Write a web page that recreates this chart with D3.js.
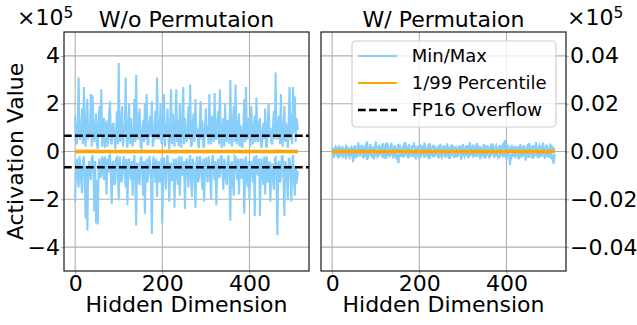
<!DOCTYPE html>
<html>
<head>
<meta charset="utf-8">
<script src="https://cdn.jsdelivr.net/npm/d3@7"></script>
<style>
  body { margin: 0; background: #fff; }
  svg { font-family: "DejaVu Sans", sans-serif; }
</style>
</head>
<body>
<div id="chart"></div>
<script>
// hidden dimension index of each sample
const minMaxDims = d3.range(0, 510, 2).concat([511]);
const pctDims = d3.range(0, 496, 16).concat([511]);

// W/o permutation, in units of 1e5
const noPermMax = [
  1.5, 0.4, 0.3, 1.2, 3.1, 0.6, 0.5, 1.0, 1.8, 0.3, 2.7, 0.9, 0.2, 1.4, 2.2, 0.5,
  1.1, 0.7, 2.4, 0.2, 2.35, 1.1, 0.4, 0.8, 1.6, 0.3, 0.1, 1.3, 1.9, 0.6, 2.6, 0.2,
  1.0, 1.4, 0.15, 0.9, 1.3, 0.2, 0.5, 1.6, 2.1, 0.4, 0.3, 1.1, 1.2, 0.6, 0.1, 0.8,
  1.7, 0.3, 3.7, 0.5, 0.4, 1.5, 1.9, 0.2, 1.1, 0.8, 3.1, 0.4, 0.15, 1.2, 2.0, 0.3,
  1.4, 0.6, 0.2, 1.0, 2.2, 0.4, 3.2, 0.7, 0.5, 1.3, 1.8, 0.2, 0.15, 0.9, 1.3, 0.4,
  2.0, 0.5, 2.4, 0.3, 0.3, 1.2, 1.5, 0.6, 2.1, 0.2, 0.4, 1.0, 1.7, 0.5, 3.1, 0.8,
  0.5, 1.1, 2.0, 0.4, 0.3, 1.6, 2.4, 0.2, 1.2, 0.7, 1.8, 0.5, 0.1, 1.2, 2.6, 0.3,
  1.6, 0.9, 0.2, 1.4, 2.6, 0.4, 1.3, 0.2, 2.0, 0.8, 0.15, 1.5, 2.7, 0.3, 1.4, 0.6,
  0.4, 1.0, 1.9, 0.5, 2.8, 0.2, 0.3, 1.3, 1.6, 0.4, 2.2, 0.7, 1.0, 0.3, 0.15, 1.2,
  2.1, 0.5, 1.3, 0.2, 0.2, 1.1, 1.8, 0.6, 1.1, 0.3, 2.4, 0.9, 0.3, 1.4, 1.5, 0.4,
  2.45, 0.6, 0.5, 1.2, 1.7, 0.3, 2.6, 0.8, 0.15, 1.0, 1.4, 0.2, 2.0, 0.7, 0.4, 1.3,
  1.2, 0.3, 3.0, 0.9, 0.2, 1.3, 1.9, 0.4, 2.8, 0.6, 0.3, 1.1, 1.6, 0.2, 1.1, 0.5,
  0.15, 1.0, 2.2, 0.4, 2.7, 0.6, 0.5, 1.4, 1.3, 0.2, 1.9, 0.8, 0.3, 1.1, 1.5, 0.4,
  2.25, 0.7, 0.4, 1.2, 1.4, 0.3, 0.15, 0.9, 1.2, 0.5, 1.8, 0.2, 0.2, 1.3, 2.0, 0.6,
  1.0, 0.4, 0.3, 1.1, 1.7, 0.5, 3.3, 0.8, 0.5, 1.2, 1.5, 0.3, 2.4, 0.6, 0.2, 1.0,
  1.9, 0.4, 1.2, 0.7, 0.15, 1.3, 2.7, 0.5, 1.6, 0.3, 2.7, 0.8, 2.3, 0.4, 1.4, 0.9
];
const noPermMin = [
  -2.1, -0.5, -0.3, -1.1, -1.5, -0.2, -0.6, -1.3, -1.75, -0.4, -0.2, -0.9, -2.8, -0.6, -3.3, -0.8,
  -0.4, -1.0, -1.2, -0.3, -0.15, -0.7, -2.5, -0.4, -3.0, -1.2, -3.05, -0.5, -0.3, -1.1, -1.0, -0.2,
  -0.5, -1.2, -0.2, -0.6, -1.8, -0.3, -0.9, -0.2, -0.15, -1.0, -2.2, -0.5, -0.4, -1.4, -1.3, -0.3,
  -0.25, -0.8, -2.05, -0.2, -0.6, -1.3, -1.1, -0.4, -0.2, -0.9, -1.5, -0.3, -2.25, -0.6, -0.3, -1.0,
  -1.2, -0.4, -1.85, -0.6, -0.15, -1.1, -3.1, -0.5, -0.5, -1.2, -1.4, -0.3, -0.2, -0.9, -1.85, -0.4,
  -2.6, -0.7, -0.3, -1.3, -1.0, -0.2, -0.5, -1.1, -3.45, -0.6, -0.2, -0.8, -1.3, -0.3, -1.9, -0.5,
  -0.4, -1.3, -1.1, -0.3, -3.0, -0.7, -0.25, -1.0, -1.6, -0.4, -0.15, -0.9, -2.1, -0.5, -0.5, -1.2,
  -1.2, -0.3, -2.35, -0.6, -0.3, -1.1, -1.4, -0.2, -1.85, -0.8, -0.2, -1.0, -0.9, -0.4, -2.4, -0.6,
  -0.3, -0.9, -1.5, -0.4, -0.15, -1.2, -1.9, -0.3, -0.6, -1.0, -2.35, -0.5, -0.2, -1.3, -1.1, -0.2,
  -0.4, -1.1, -1.6, -0.3, -2.1, -0.6, -0.25, -0.9, -1.3, -0.2, -0.5, -1.2, -2.0, -0.4, -0.15, -0.8,
  -1.2, -0.4, -2.25, -0.7, -0.3, -1.1, -1.0, -0.2, -0.2, -0.9, -1.6, -0.3, -0.5, -1.2, -1.4, -0.4,
  -0.15, -1.0, -2.9, -0.5, -0.4, -1.3, -1.85, -0.2, -0.25, -0.8, -1.2, -0.3, -1.8, -0.6, -0.3, -1.1,
  -1.1, -0.3, -2.6, -0.8, -0.2, -1.2, -1.5, -0.4, -2.05, -0.6, -0.4, -1.0, -1.3, -0.2, -2.7, -0.5,
  -0.15, -0.9, -1.0, -0.3, -2.7, -0.7, -0.3, -1.1, -1.4, -0.2, -1.8, -0.5, -0.2, -1.3, -1.2, -0.4,
  -2.1, -0.6, -0.5, -1.2, -1.6, -0.3, -0.25, -0.9, -3.5, -0.5, -0.4, -1.3, -1.1, -0.2, -0.2, -1.0,
  -2.7, -0.4, -0.6, -1.1, -2.05, -0.3, -0.3, -0.9, -2.1, -0.5, -0.15, -1.2, -1.85, -0.6, -1.35, -0.8
];
const noPermP99 = [
  0.03, 0.025, 0.035, 0.03, 0.028, 0.032, 0.03, 0.027, 0.033, 0.03, 0.029, 0.031, 0.026, 0.03, 0.034, 0.029,
  0.031, 0.028, 0.03, 0.032, 0.027, 0.03, 0.033, 0.029, 0.031, 0.03, 0.028, 0.032, 0.03, 0.027, 0.031, 0.03
];
const noPermP1 = [
  -0.029, -0.031, -0.027, -0.033, -0.03, -0.028, -0.032, -0.03, -0.026, -0.031, -0.029, -0.034, -0.03, -0.028, -0.031, -0.027,
  -0.03, -0.032, -0.029, -0.028, -0.033, -0.03, -0.027, -0.031, -0.029, -0.032, -0.03, -0.028, -0.031, -0.033, -0.029, -0.03
];

// W/ permutation, raw activation values (divided by 1e5 when drawn)
const permMax = [
  150, 60, 80, 130, 200, 40, 120, 90, 250, 70, 100, 150, 180, 50, 60, 110,
  220, 80, 140, 30, 80, 120, 190, 60, 120, 90, 260, 50, 90, 140, 380, 70,
  150, 50, 280, 100, 70, 160, 240, 60, 420, 110, 120, 40, 310, 130, 90, 70,
  220, 60, 420, 150, 130, 50, 280, 110, 80, 160, 350, 70, 160, 40, 380, 120,
  240, 70, 110, 150, 360, 60, 140, 100, 270, 40, 80, 130, 320, 90, 190, 50,
  120, 160, 250, 60, 390, 110, 150, 40, 310, 120, 90, 70, 260, 140, 380, 60,
  130, 90, 240, 50, 80, 140, 290, 70, 160, 110, 370, 60, 100, 150, 220, 40,
  350, 80, 120, 160, 270, 50, 180, 120, 90, 40, 240, 130, 320, 70, 110, 150,
  260, 60, 150, 120, 340, 70, 90, 140, 210, 50, 280, 100, 120, 160, 190, 40,
  80, 130, 250, 60, 150, 90, 320, 110, 110, 50, 270, 140, 180, 70, 390, 100,
  140, 70, 290, 120, 80, 150, 350, 60, 170, 100, 230, 40, 100, 130, 310, 80,
  160, 50, 260, 140, 90, 110, 210, 60, 340, 90, 130, 150, 240, 40, 110, 120,
  270, 60, 170, 130, 350, 90, 480, 110, 120, 50, 220, 140, 90, 70, 280, 100,
  150, 120, 240, 50, 110, 160, 190, 70, 310, 90, 140, 40, 260, 110, 80, 130,
  220, 80, 350, 110, 130, 60, 270, 140, 180, 90, 380, 50, 100, 120, 240, 70,
  160, 110, 370, 60, 120, 150, 290, 80, 80, 40, 330, 130, 190, 60, 140, 90
];
const permMin = [
  -120, -60, -250, -110, -80, -40, -180, -90, -280, -70, -100, -150, -210, -50, -150, -120,
  -320, -80, -90, -140, -240, -60, -130, -70, -450, -110, -190, -50, -270, -130, -110, -60,
  -220, -70, -80, -130, -290, -50, -140, -100, -350, -80, -190, -60, -110, -140, -260, -40,
  -330, -90, -120, -60, -210, -130, -160, -50, -90, -110, -270, -70, -180, -40, -310, -100,
  -130, -60, -240, -100, -90, -50, -290, -120, -170, -70, -340, -110, -490, -80, -220, -60,
  -150, -100, -260, -50, -80, -130, -190, -70, -280, -90, -120, -40, -230, -110, -160, -60,
  -330, -80, -110, -140, -250, -60, -180, -90, -90, -120, -270, -50, -140, -100, -210, -70,
  -310, -110, -120, -60, -240, -90, -170, -40, -100, -130, -290, -70, -150, -50, -220, -100,
  -80, -120, -260, -60, -130, -90, -310, -70, -190, -50, -110, -140, -270, -80, -160, -60,
  -230, -100, -90, -40, -340, -110, -140, -70, -210, -90, -120, -60, -280, -130, -170, -50,
  -100, -70, -250, -120, -150, -60, -220, -90, -90, -130, -320, -80, -130, -50, -190, -110,
  -270, -60, -110, -140, -230, -70, -160, -100, -80, -40, -260, -120, -140, -60, -210, -90,
  -290, -70, -120, -100, -240, -50, -170, -130, -350, -80, -110, -60, -560, -120, -210, -70,
  -150, -90, -270, -60, -90, -140, -330, -80, -180, -110, -240, -50, -120, -90, -380, -70,
  -160, -80, -260, -110, -100, -60, -310, -90, -190, -120, -130, -50, -280, -100, -170, -60,
  -220, -70, -110, -130, -300, -80, -140, -60, -250, -110, -180, -70, -330, -120, -520, -90
];
const permP99 = [
  30, 25, 35, 30, 28, 32, 30, 27, 33, 30, 29, 31, 26, 30, 34, 29,
  31, 28, 30, 32, 27, 30, 33, 29, 31, 30, 28, 32, 30, 27, 31, 30
];
const permP1 = [
  -29, -31, -27, -33, -30, -28, -32, -30, -26, -31, -29, -34, -30, -28, -31, -27,
  -30, -32, -29, -28, -33, -30, -27, -31, -29, -32, -30, -28, -31, -33, -29, -30
];

const fp16Max = 0.65504; // 65504 in units of 1e5
const xTicks = [0, 200, 400];
const leftTicks = [-4, -2, 0, 2, 4];
const rightTicks = [-0.04, -0.02, 0, 0.02, 0.04];
const panelTitles = ["W/o Permutaion", "W/ Permutaion"];
const legendLabels = ["Min/Max", "1/99 Percentile", "FP16 Overflow"];

const blue = "#87cefa";
const orange = "#ffa500";
const gridColor = "#b0b0b0";

const width = 637, height = 325;
const plotTop = 32, plotBottom = 271;

const svg = d3.select("#chart").append("svg")
  .attr("width", width)
  .attr("height", height);

function drawPanel(opts) {
  const x = d3.scaleLinear().domain([-25.55, 536.55]).range([opts.left, opts.right]);
  const y = d3.scaleLinear().domain(opts.yDomain).range([plotBottom, plotTop]);
  const g = svg.append("g");

  // grid
  g.append("g").selectAll("line").data(xTicks).join("line")
    .attr("x1", d => x(d)).attr("x2", d => x(d))
    .attr("y1", plotTop).attr("y2", plotBottom)
    .attr("stroke", gridColor).attr("stroke-width", 1.1);
  g.append("g").selectAll("line").data(opts.yTicks).join("line")
    .attr("x1", opts.left).attr("x2", opts.right)
    .attr("y1", d => y(d)).attr("y2", d => y(d))
    .attr("stroke", gridColor).attr("stroke-width", 1.1);

  // axes
  const xAxis = g.append("g")
    .attr("transform", `translate(0, ${plotBottom})`)
    .call(d3.axisBottom(x).tickValues(xTicks).tickFormat(d3.format("d")).tickSize(3).tickPadding(1));
  const yAxisFn = opts.yRight ? d3.axisRight(y) : d3.axisLeft(y);
  const yAxis = g.append("g")
    .attr("transform", `translate(${opts.yRight ? opts.right : opts.left}, 0)`)
    .call(yAxisFn.tickValues(opts.yTicks).tickFormat(d3.format(opts.yFormat)).tickSize(3).tickPadding(1));
  [xAxis, yAxis].forEach(a => {
    a.select(".domain").remove();
    a.selectAll(".tick line").attr("stroke", gridColor).attr("stroke-width", 1.1);
    a.selectAll(".tick text").attr("font-size", 22).attr("font-family", "DejaVu Sans").attr("fill", "#000");
  });

  // min/max and percentile lines
  const line = dims => d3.line().x((d, i) => x(dims[i])).y(d => y(d * opts.unit));
  [opts.max, opts.min].forEach(s => {
    g.append("path").datum(s)
      .attr("fill", "none").attr("stroke", blue).attr("stroke-width", 2.08)
      .attr("d", line(minMaxDims));
  });
  [opts.p99, opts.p1].forEach(s => {
    g.append("path").datum(s)
      .attr("fill", "none").attr("stroke", orange).attr("stroke-width", 2.08)
      .attr("d", line(pctDims));
  });

  // fp16 overflow thresholds
  if (opts.showOverflow) {
    g.selectAll(".ovf").data([fp16Max, -fp16Max]).join("line")
      .attr("x1", opts.left).attr("x2", opts.right)
      .attr("y1", d => y(d)).attr("y2", d => y(d))
      .attr("stroke", "#000").attr("stroke-width", 2.5)
      .attr("stroke-dasharray", "7.7,3.3");
  }

  // frame
  g.append("rect")
    .attr("x", opts.left).attr("y", plotTop)
    .attr("width", opts.right - opts.left).attr("height", plotBottom - plotTop)
    .attr("fill", "none").attr("stroke", "#1a1a1a").attr("stroke-width", 1.2);

  // title and x label
  g.append("text")
    .attr("x", (opts.left + opts.right) / 2).attr("y", 27)
    .attr("text-anchor", "middle").attr("font-size", 22)
    .text(opts.title);
  g.append("text")
    .attr("x", (opts.left + opts.right) / 2).attr("y", 312)
    .attr("text-anchor", "middle").attr("font-size", 22)
    .text("Hidden Dimension");

  // offset text x10^5
  const off = g.append("text")
    .attr("x", opts.offsetX).attr("y", 25).attr("font-size", 22);
  off.append("tspan").text("\u00d710");
  off.append("tspan").attr("font-size", 15.4).attr("dy", -7).text("5");

  return { x, y };
}

drawPanel({
  left: 64, right: 309, yDomain: [-5, 5], yTicks: leftTicks, yFormat: "d", unit: 1,
  max: noPermMax, min: noPermMin, p99: noPermP99, p1: noPermP1,
  showOverflow: true, title: panelTitles[0], offsetX: 17
});
// the +/-65504 thresholds fall outside this panel's range, so they are clipped away
drawPanel({
  left: 321, right: 566, yDomain: [-0.05, 0.05], yTicks: rightTicks, yFormat: ".2f", yRight: true, unit: 1e-5,
  max: permMax, min: permMin, p99: permP99, p1: permP1,
  showOverflow: false, title: panelTitles[1], offsetX: 567
});

// y label
svg.append("text")
  .attr("transform", "translate(23, 151.5) rotate(-90)")
  .attr("text-anchor", "middle").attr("font-size", 22)
  .text("Activation Value");

// legend (right panel)
const legend = svg.append("g").attr("transform", "translate(352, 41)");
legend.append("rect")
  .attr("width", 204).attr("height", 86).attr("rx", 4)
  .attr("fill", "#fff").attr("fill-opacity", 0.8)
  .attr("stroke", "#cccccc").attr("stroke-width", 1.1);
const entryStyles = [
  { stroke: blue, dash: null, w: 2.08 },
  { stroke: orange, dash: null, w: 2.08 },
  { stroke: "#000", dash: "7.7,3.3", w: 2.5 }
];
const entries = legend.selectAll(".entry").data(legendLabels).join("g")
  .attr("transform", (d, i) => `translate(0, ${15 + i * 27})`);
entries.append("line")
  .attr("x1", 6).attr("x2", 45)
  .attr("stroke", (d, i) => entryStyles[i].stroke)
  .attr("stroke-width", (d, i) => entryStyles[i].w)
  .attr("stroke-dasharray", (d, i) => entryStyles[i].dash);
entries.append("text")
  .attr("x", 59.7).attr("dy", "0.36em").attr("font-size", 18)
  .text(d => d);
</script>
</body>
</html>
